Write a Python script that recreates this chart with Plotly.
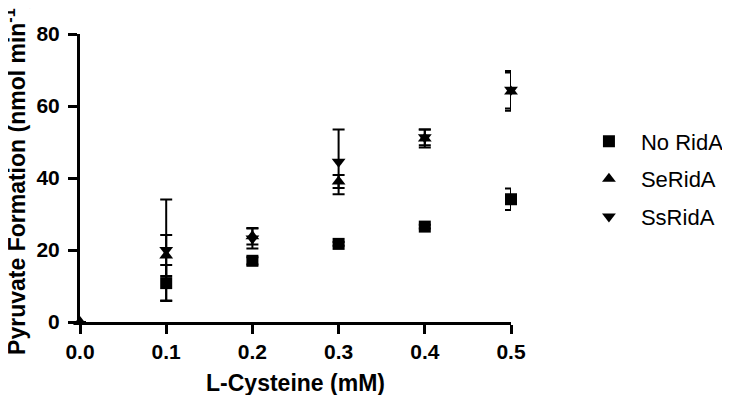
import plotly.graph_objects as go

x_vals = [0, 0.1, 0.2, 0.3, 0.4, 0.5]
no_rida = [None, 10.8, 17.0, 21.7, 26.5, 34.1]
no_rida_err = [0, 5.0, 1.0, 0.5, 0.5, 3.0]
se_rida = [0, 18.5, 23.8, 39.0, 51.0, 64.0]
se_rida_err = [0, 5.7, 2.3, 1.8, 2.5, 5.3]
ss_rida = [None, 20.0, 23.2, 44.5, 51.3, 64.5]
ss_rida_err = [0, 14.0, 2.8, 9.0, 2.2, 5.2]

series = [
    ("No RidA", no_rida, no_rida_err, "square"),
    ("SeRidA", se_rida, se_rida_err, "triangle-up"),
    ("SsRidA", ss_rida, ss_rida_err, "triangle-down"),
]

FONT = "Liberation Sans, Arial, sans-serif"
fig = go.Figure()
for i, (name, ys, errs, sym) in enumerate(series):
    fig.add_trace(go.Scatter(
        x=x_vals, y=ys, mode="markers", name=name, legendgroup=name,
        marker=dict(symbol=sym, size=12, color="black"),
        error_y=dict(type="data", array=errs, visible=True, color="black",
                     thickness=2, width=6),
        cliponaxis=False,
    ))

# page body has an 8px margin, margins compensate for that offset
fig.update_layout(
    width=730, height=395,
    margin=dict(l=72, r=227, t=26, b=81, autoexpand=False),
    paper_bgcolor="white", plot_bgcolor="white",
    font=dict(family=FONT, color="black"),
    showlegend=True,
    legend=dict(x=1.153, y=0.70, xanchor="left", yanchor="top",
                font=dict(size=22, family=FONT, color="black"),
                tracegroupgap=6, itemwidth=54, bgcolor="rgba(0,0,0,0)"),
    xaxis=dict(range=[0, 0.5], tickvals=[0, 0.1, 0.2, 0.3, 0.4, 0.5],
               ticktext=["0.0", "0.1", "0.2", "0.3", "0.4", "0.5"],
               showline=True, linecolor="black", linewidth=3,
               ticks="outside", ticklen=9, tickwidth=3, tickcolor="black",
               showgrid=False, zeroline=False, automargin=False,
               tickfont=dict(size=21, family=FONT, color="black", weight="bold"),
               title=dict(text="<b>L-Cysteine (mM)</b>", font=dict(size=23, family=FONT, color="black"),
                          standoff=13)),
    yaxis=dict(range=[0, 80], tickvals=[0, 20, 40, 60, 80],
               showline=True, linecolor="black", linewidth=3,
               ticks="outside", ticklen=9, tickwidth=3, tickcolor="black",
               showgrid=False, zeroline=False, automargin=False,
               ticklabelstandoff=4,
               tickfont=dict(size=21, family=FONT, color="black", weight="bold")),
    annotations=[dict(text="<b>Pyruvate Formation (nmol min<sup>-1</sup>)</b>",
                      xref="paper", yref="paper", x=-0.151, y=0.50,
                      xanchor="center", yanchor="middle", textangle=-90,
                      showarrow=False,
                      font=dict(size=23, family=FONT, color="black"))],
)

fig.write_html("out.html")
